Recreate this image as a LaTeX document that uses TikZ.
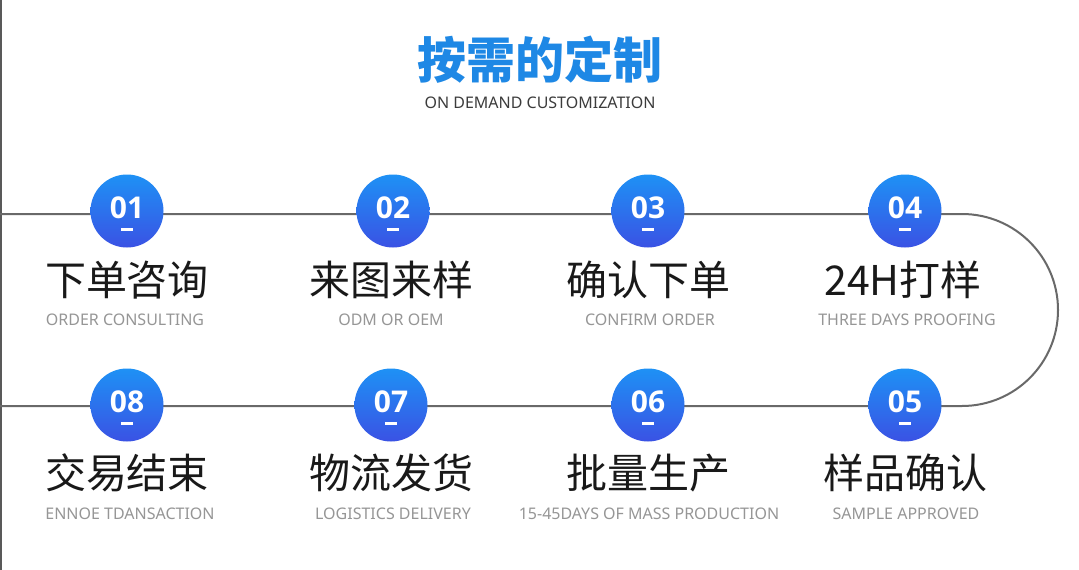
\documentclass[tikz,border=0pt]{standalone}
\usepackage{fontspec}
\setmainfont{Noto Sans}
\newfontfamily\cjk{Noto Sans CJK SC}
\newfontfamily\numf{Open Sans}
\usetikzlibrary{shadings}
\definecolor{titleblue}{RGB}{30,136,229}
\definecolor{ctop}{RGB}{30,145,245}
\definecolor{cbot}{RGB}{58,82,228}
\definecolor{engray}{RGB}{150,150,150}
\definecolor{subgray}{RGB}{60,60,60}
\definecolor{pathgray}{RGB}{105,105,105}
\tikzset{
  stepcirc/.style={circle, minimum size=73pt, inner sep=0pt, top color=ctop, bottom color=cbot, draw=none},
  num/.style={text=white, font=\numf\bfseries\fontsize{30}{30}\selectfont},
  cn/.style={font=\cjk\fontsize{41}{41}\selectfont, text=black!90, inner sep=0pt},
  en/.style={font=\fontsize{16}{16}\selectfont, text=engray, inner sep=0pt},
  flow/.style={draw=pathgray, line width=2pt},
}
\begin{document}
\begin{tikzpicture}[x=1pt,y=-1pt]
\useasboundingbox (0,0) rectangle (1079,570);
\fill[white] (0,0) rectangle (1079,570);
\draw[draw=black!65, line width=1.5pt] (1,0) -- (1,570);
% title
\node[font=\cjk\bfseries\fontsize{49}{49}\selectfont, text=titleblue, inner sep=0pt] (title) at (540,60) {按需的定制};
\node[font=\fontsize{16}{16}\selectfont, text=subgray, inner sep=0pt] (sub) at (540,103) {ON DEMAND CUSTOMIZATION};
% flow path
\coordinate (ls) at (0,214);
\coordinate (le) at (0,406);
\draw[flow] (ls) -- (962,214) arc[start angle=-90, end angle=90, radius=96] -- (le);
% circles
\foreach \n/\x/\y in {01/127/211, 02/393/211, 03/648/211, 04/905/211, 08/127/405, 07/391/405, 06/648/405, 05/905/405} {
  \node[stepcirc] (c\n) at (\x,\y) {};
  \node[num] (t\n) at (\x,\y-3) {\n};
  \fill[white] (\x-6,\y+17) rectangle (\x+6,\y+19.5);
}
% labels
\node[cn] (cn01) at (127,280) {下单咨询};
\node[cn] (cn02) at (391,280) {来图来样};
\node[cn] (cn03) at (648,280) {确认下单};
\node[cn] (cn04) at (903,280) {24H打样};
\node[en] (en01) at (125,320) {ORDER CONSULTING};
\node[en] (en02) at (391,320) {ODM OR OEM};
\node[en] (en03) at (650,320) {CONFIRM ORDER};
\node[en] (en04) at (907,320) {THREE DAYS PROOFING};
\node[cn] (cn08) at (127,473) {交易结束};
\node[cn] (cn07) at (391,473) {物流发货};
\node[cn] (cn06) at (648,473) {批量生产};
\node[cn] (cn05) at (905,473) {样品确认};
\node[en] (en08) at (130,514) {ENNOE TDANSACTION};
\node[en] (en07) at (393,514) {LOGISTICS DELIVERY};
\node[en] (en06) at (649,514) {15-45DAYS OF MASS PRODUCTION};
\node[en] (en05) at (906,514) {SAMPLE APPROVED};
\end{tikzpicture}
\end{document}
